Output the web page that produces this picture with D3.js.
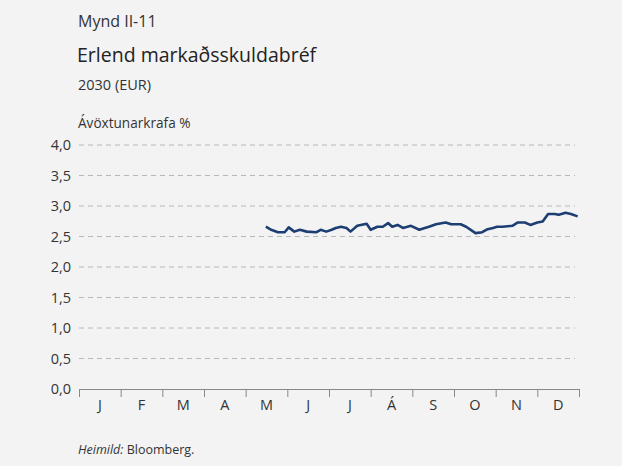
<!DOCTYPE html>
<html>
<head>
<meta charset="utf-8">
<script src="https://cdn.jsdelivr.net/npm/d3@7"></script>
<style>
  body { margin: 0; background: #f3f3f3; }
  svg { display: block; font-family: "Open Sans", "Noto Sans", sans-serif; }
</style>
</head>
<body>
<svg id="chart" width="622" height="466"></svg>
<script>
// mánuðir á x-ás
var months = ['J', 'F', 'M', 'A', 'M', 'J', 'J', 'Á', 'S', 'O', 'N', 'D'];
var yTicks = [0, 0.5, 1, 1.5, 2, 2.5, 3, 3.5, 4];

// dagsetningar (mán-dagur) og ávöxtunarkrafa
var dates = ['05-16', '05-20', '05-25', '05-30', '06-02', '06-06', '06-10', '06-15', '06-22', '06-25',
  '06-29', '07-03', '07-06', '07-10', '07-14', '07-17', '07-22', '07-29', '08-01', '08-06',
  '08-10', '08-14', '08-17', '08-21', '08-25', '08-31', '09-06', '09-10', '09-13', '09-18',
  '09-25', '09-29', '10-06', '10-10', '10-14', '10-17', '10-22', '10-26', '10-30', '11-02',
  '11-06', '11-13', '11-17', '11-22', '11-26', '12-01', '12-05', '12-09', '12-14', '12-17',
  '12-22', '12-26', '12-31'];
var values = [2.66, 2.61, 2.57, 2.57, 2.65, 2.58, 2.61, 2.58, 2.57, 2.61,
  2.58, 2.61, 2.64, 2.66, 2.64, 2.58, 2.675, 2.71, 2.61, 2.66,
  2.66, 2.72, 2.66, 2.69, 2.64, 2.675, 2.61, 2.64, 2.66, 2.70,
  2.73, 2.70, 2.70, 2.66, 2.60, 2.555, 2.57, 2.62, 2.64, 2.66,
  2.66, 2.675, 2.73, 2.73, 2.69, 2.73, 2.745, 2.87, 2.87, 2.855,
  2.89, 2.87, 2.83];

var svg = d3.select('#chart');
var textColor = '#333';

// hver mánuður jafn breiður á ásnum
function monthPos(s) {
  var m = +s.slice(0, 2) - 1, d = +s.slice(3);
  var days = new Date(2024, m + 1, 0).getDate();
  return m + (d - 1) / days;
}

var x = d3.scaleLinear().domain([0, 12]).range([79, 579]);
var y = d3.scaleLinear().domain([0, 4]).range([389, 145]);

// fyrirsagnir
svg.append('text').attr('x', 78).attr('y', 27).attr('font-size', 16).attr('fill', textColor).text('Mynd II-11');
svg.append('text').attr('x', 77).attr('y', 62).attr('font-size', 19.5).attr('fill', '#222').text('Erlend markaðsskuldabréf');
svg.append('text').attr('x', 78).attr('y', 90).attr('font-size', 14.5).attr('fill', textColor).text('2030 (EUR)');
svg.append('text').attr('x', 78).attr('y', 128).attr('font-size', 13.6).attr('fill', textColor).text('Ávöxtunarkrafa %');

// gridlínur
svg.append('g')
  .selectAll('line')
  .data(yTicks.filter(d => d > 0))
  .enter()
  .append('line')
  .attr('x1', 79).attr('x2', 575)
  .attr('y1', d => y(d)).attr('y2', d => y(d))
  .attr('stroke', '#b8b8b8')
  .attr('stroke-width', 1)
  .attr('stroke-dasharray', '5,4');

// y-ás
var yAxis = svg.append('g')
  .attr('transform', 'translate(79,0)')
  .call(d3.axisLeft(y).tickValues(yTicks).tickSize(0).tickPadding(8)
    .tickFormat(d => d3.format('.1f')(d).replace('.', ',')));
yAxis.select('.domain').remove();
yAxis.selectAll('text').attr('font-size', 14.5).attr('fill', textColor).attr('font-family', '"Open Sans", sans-serif');

// x-ás
var xAxis = svg.append('g')
  .attr('transform', 'translate(0,389)')
  .call(d3.axisBottom(x).tickValues(d3.range(0, 13)).tickSize(8).tickFormat(''));
xAxis.select('.domain').attr('stroke', '#888').attr('d', 'M79,0.5H579');
xAxis.selectAll('.tick line').attr('stroke', '#888');

svg.append('g')
  .selectAll('text')
  .data(months)
  .enter()
  .append('text')
  .attr('x', (d, i) => x(i + 0.5))
  .attr('y', 410)
  .attr('text-anchor', 'middle')
  .attr('font-size', 14.5)
  .attr('fill', textColor)
  .text(d => d);

// ferill
var line = d3.line()
  .x((d, i) => x(monthPos(dates[i])))
  .y(d => y(d));
svg.append('path')
  .datum(values)
  .attr('d', line)
  .attr('fill', 'none')
  .attr('stroke', '#1d3e72')
  .attr('stroke-width', 2.6)
  .attr('stroke-linejoin', 'round');

// heimild
var src = svg.append('text').attr('x', 78).attr('y', 454).attr('font-size', 12.5).attr('fill', textColor);
src.append('tspan').attr('font-style', 'italic').text('Heimild:');
src.append('tspan').text(' Bloomberg.');
</script>
</body>
</html>
